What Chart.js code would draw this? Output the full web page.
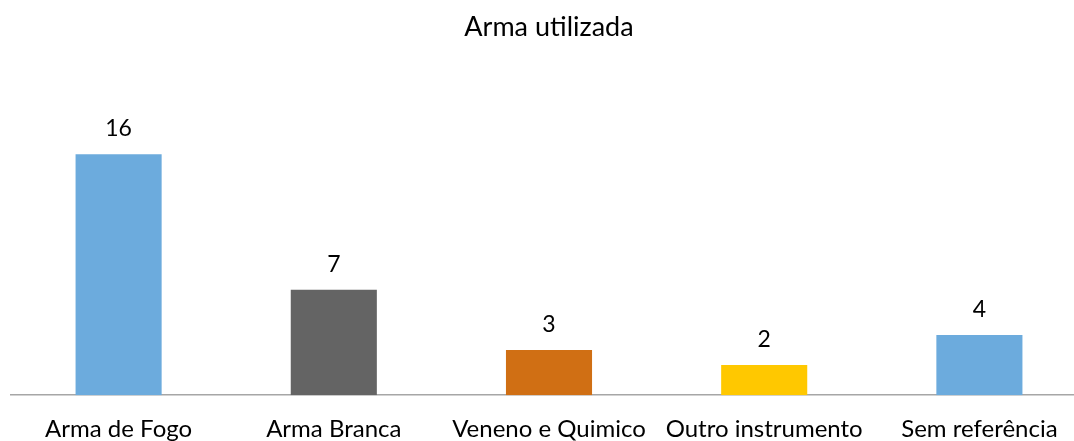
<!DOCTYPE html>
<html><head><meta charset="utf-8">
<script src="https://cdn.jsdelivr.net/npm/chart.js@4/dist/chart.umd.min.js"></script>
<style>
html,body{margin:0;padding:0;background:#fff;overflow:hidden;}
#wrap{width:1087px;height:464px;position:relative;}
</style></head>
<body>
<div id="wrap"><canvas id="c"></canvas></div>
<script>
const categories = ["Arma de Fogo", "Arma Branca", "Veneno e Quimico", "Outro instrumento", "Sem referência"];
const values = [16, 7, 3, 2, 4];
const barColors = ["#6CABDD", "#646464", "#D06F14", "#FFC800", "#6CABDD"];
const chartTitle = "Arma utilizada";
const FONT = "Lato, 'Open Sans', sans-serif";

const valueLabels = {
  id: 'valueLabels',
  afterDatasetsDraw(chart) {
    const ctx = chart.ctx;
    const meta = chart.getDatasetMeta(0);
    ctx.save();
    ctx.font = "23px " + FONT;
    ctx.fillStyle = "#000";
    ctx.textAlign = "center";
    ctx.textBaseline = "alphabetic";
    meta.data.forEach((bar, i) => {
      ctx.fillText(String(values[i]), bar.x, bar.y - 18);
    });
    ctx.restore();
  }
};

new Chart(document.getElementById('c'), {
  type: 'bar',
  data: {
    labels: categories,
    datasets: [{
      data: values,
      backgroundColor: barColors,
      categoryPercentage: 1,
      barPercentage: 0.4
    }]
  },
  options: {
    responsive: true,
    maintainAspectRatio: false,
    animation: false,
    layout: { padding: { left: 11, right: 0, top: 0, bottom: 0 } },
    plugins: {
      legend: { display: false },
      tooltip: { enabled: false },
      title: {
        display: true,
        text: chartTitle,
        color: "#000",
        font: { family: FONT, size: 27, weight: 'normal' },
        padding: { top: 11, bottom: 50.6 }
      }
    },
    scales: {
      x: {
        grid: { display: false, drawTicks: false },
        border: { display: true, color: "#A6A6A6", width: 1.5 },
        ticks: { color: "#000", font: { family: FONT, size: 24 }, padding: 20, maxRotation: 0, autoSkip: false }
      },
      y: {
        display: false,
        min: 0,
        max: 20
      }
    }
  },
  plugins: [valueLabels]
});
</script>
</body></html>
